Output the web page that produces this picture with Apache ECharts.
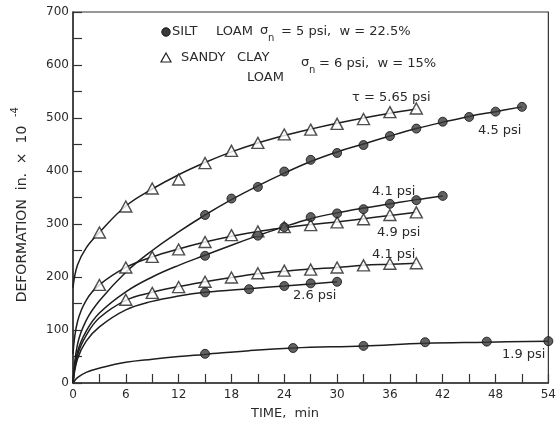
<!DOCTYPE html>
<html><head><meta charset="utf-8">
<script src="https://cdn.jsdelivr.net/npm/echarts@6/dist/echarts.min.js"></script>
<style>html,body{margin:0;padding:0;background:#fff}#c{width:559px;height:426px}</style>
</head><body><div id="c"></div>
<script>
// Tick labels
const xLabels = [0, 6, 12, 18, 24, 30, 36, 42, 48, 54];
const yLabels = [0, 100, 200, 300, 400, 500, 600, 700];

// Sandy clay loam, tau = 5.65 psi (triangles)
const sc565T = [3, 6, 9, 12, 15, 18, 21, 24, 27, 30, 33, 36, 39];
const sc565V = [284, 333, 367, 384, 415, 438, 453, 469, 478, 489, 498, 511, 518];
const sc565CurveT = [0, 0.5, 1.5, 3, 6, 9, 12, 15, 18, 21, 24, 27, 30, 33, 36, 39];
const sc565CurveV = [180, 222, 255, 284, 334, 366, 393, 416, 436, 453, 467, 479, 490, 500, 509, 517];

// Silt loam 4.5 psi (circles)
const sl45T = [15, 18, 21, 24, 27, 30, 33, 36, 39, 42, 45, 48, 51];
const sl45V = [317, 348, 370, 399, 421, 434, 449, 466, 480, 493, 502, 512, 521];
const sl45CurveT = [0, 0.5, 1.5, 3, 6, 9, 12, 15, 18, 21, 24, 27, 30, 33, 36, 39, 42, 45, 48, 51];
const sl45CurveV = [0, 72, 118, 155, 209, 250, 285, 317, 346, 372, 396, 418, 436, 451, 466, 480, 492, 503, 512, 521];

// Silt loam 4.1 psi (circles)
const sl41T = [15, 21, 24, 27, 30, 33, 36, 39, 42];
const sl41V = [240, 278, 294, 313, 320, 328, 338, 345, 353];
const sl41CurveT = [0, 0.5, 1.5, 3, 6, 9, 12, 15, 18, 21, 24, 27, 30, 33, 36, 39, 42];
const sl41CurveV = [0, 58, 98, 132, 172, 200, 222, 241, 260, 278, 295, 310, 321, 330, 338, 346, 353];

// Sandy clay loam 4.9 psi (triangles)
const sc49T = [3, 6, 9, 12, 15, 18, 21, 24, 27, 30, 33, 36, 39];
const sc49V = [185, 218, 238, 252, 266, 279, 286, 294, 298, 303, 309, 317, 322];
const sc49CurveT = [0, 0.5, 1.5, 3, 6, 9, 12, 15, 18, 21, 24, 27, 30, 33, 36, 39];
const sc49CurveV = [55, 115, 156, 185, 218, 238, 253, 266, 277, 286, 293, 299, 304, 310, 316, 322];

// Sandy clay loam 4.1 psi (triangles)
const sc41T = [6, 9, 12, 15, 18, 21, 24, 27, 30, 33, 36, 39];
const sc41V = [157, 170, 181, 191, 199, 207, 212, 214, 218, 222, 225, 226];
const sc41CurveT = [0, 0.5, 1.5, 3, 6, 9, 12, 15, 18, 21, 24, 27, 30, 33, 36, 39];
const sc41CurveV = [0, 52, 90, 123, 156, 171, 182, 191, 199, 206, 211, 215, 218, 222, 224, 226];

// Silt loam 2.6 psi (circles)
const sl26T = [15, 20, 24, 27, 30];
const sl26V = [171, 177, 183, 188, 191];
const sl26CurveT = [0, 0.5, 1.5, 3, 6, 9, 12, 15, 20, 24, 27, 30];
const sl26CurveV = [0, 45, 79, 106, 138, 154, 164, 171, 178, 183, 187, 191];

// Silt loam 1.9 psi (circles)
const sl19T = [15, 25, 33, 40, 47, 54];
const sl19V = [55, 66, 70, 77, 78, 79];
const sl19CurveT = [0, 0.5, 1.5, 3, 6, 9, 12, 15, 20, 25, 33, 40, 47, 54];
const sl19CurveV = [0, 10, 20, 28, 39, 45, 50, 54, 61, 66, 70, 75, 77, 79];

const pairs = (t, v) => t.map((x, i) => [x, v[i]]);
const FONT = '"DejaVu Sans", sans-serif';
const INK = '#2a2a2a';

function curve(t, v) {
  return { type: 'line', data: pairs(t, v), smooth: 0.4, showSymbol: false,
    silent: true, z: 2, lineStyle: { color: '#1e1e1e', width: 1.5 } };
}
function dots(t, v) {
  return { type: 'scatter', data: pairs(t, v), symbol: 'circle', symbolSize: 9, z: 4,
    itemStyle: { color: '#3a3a3a', borderColor: '#111', borderWidth: 1 } };
}
function tris(t, v) {
  return { type: 'scatter', data: pairs(t, v), symbol: 'triangle', symbolSize: [12, 11], z: 3,
    itemStyle: { color: '#fff', borderColor: '#222', borderWidth: 1.4 } };
}
function txt(x, y, s, size, align) {
  return { type: 'text', x: x, y: y, z: 10,
    style: { text: s, fill: INK, fontSize: size || 13, fontFamily: FONT,
      align: align || 'left', textAlign: align || 'left', verticalAlign: 'middle', textVerticalAlign: 'middle' } };
}

const chart = echarts.init(document.getElementById('c'), null, { renderer: 'canvas' });
chart.setOption({
  animation: false,
  backgroundColor: '#fff',
  grid: { left: 73, right: 6, top: 12, bottom: 43, show: true, borderColor: '#333', borderWidth: 1.2, backgroundColor: 'transparent' },
  xAxis: {
    type: 'value', min: 0, max: 54, interval: 3,
    axisLine: { lineStyle: { color: '#333', width: 1.5 } },
    axisTick: { inside: true, length: 9, lineStyle: { color: '#333', width: 1.2 } },
    splitLine: { show: false },
    axisLabel: { color: INK, fontSize: 12, fontFamily: FONT, margin: 6,
      formatter: v => xLabels.includes(v) ? String(v) : '' }
  },
  yAxis: {
    type: 'value', min: 0, max: 700, interval: 50,
    axisLine: { show: true, lineStyle: { color: '#333', width: 1.5 } },
    axisTick: { show: true, inside: true, length: 9, lineStyle: { color: '#333', width: 1.2 } },
    splitLine: { show: false },
    axisLabel: { color: INK, fontSize: 12, fontFamily: FONT, margin: 4,
      formatter: v => yLabels.includes(v) ? String(v) : '' }
  },
  series: [
    curve(sc565CurveT, sc565CurveV), tris(sc565T, sc565V),
    curve(sl45CurveT, sl45CurveV), dots(sl45T, sl45V),
    curve(sl41CurveT, sl41CurveV), dots(sl41T, sl41V),
    curve(sc49CurveT, sc49CurveV), tris(sc49T, sc49V),
    curve(sc41CurveT, sc41CurveV), tris(sc41T, sc41V),
    curve(sl26CurveT, sl26CurveV), dots(sl26T, sl26V),
    curve(sl19CurveT, sl19CurveV), dots(sl19T, sl19V)
  ],
  graphic: [
    // legend line 1
    { type: 'circle', shape: { cx: 166, cy: 32, r: 4.2 }, style: { fill: '#3a3a3a', stroke: '#111', lineWidth: 1 }, z: 10 },
    txt(172, 32, 'SILT'), txt(216, 32, 'LOAM'),
    txt(260, 31, 'σ'), txt(268, 38, 'n', 10),
    txt(281, 32, '= 5 psi,  w = 22.5%'),
    // legend line 2
    { type: 'polygon', shape: { points: [[166, 53], [171, 62], [161, 62]] }, style: { fill: '#fff', stroke: '#222', lineWidth: 1.2 }, z: 10 },
    txt(181, 58, 'SANDY'), txt(237, 58, 'CLAY'),
    txt(247, 78, 'LOAM'),
    txt(301, 63, 'σ'), txt(309, 70, 'n', 10),
    txt(319, 64, '= 6 psi,  w = 15%'),
    // curve labels
    txt(352, 98, 'τ = 5.65 psi'),
    txt(478, 131, '4.5 psi'),
    txt(372, 192, '4.1 psi'),
    txt(377, 233, '4.9 psi'),
    txt(372, 255, '4.1 psi'),
    txt(293, 296, '2.6 psi'),
    txt(502, 355, '1.9 psi'),
    // axis titles
    txt(285, 414, 'TIME,  min', 13, 'center'),
    { type: 'text', x: 22, y: 214, rotation: Math.PI / 2, z: 10,
      style: { text: 'DEFORMATION  in.  ×  10', fill: INK, fontSize: 14, fontFamily: FONT,
        align: 'center', textAlign: 'center', verticalAlign: 'middle', textVerticalAlign: 'middle' } },
    { type: 'text', x: 15, y: 112, rotation: Math.PI / 2, z: 10,
      style: { text: '-4', fill: INK, fontSize: 10, fontFamily: FONT,
        align: 'center', textAlign: 'center', verticalAlign: 'middle', textVerticalAlign: 'middle' } }
  ]
});
</script></body></html>
